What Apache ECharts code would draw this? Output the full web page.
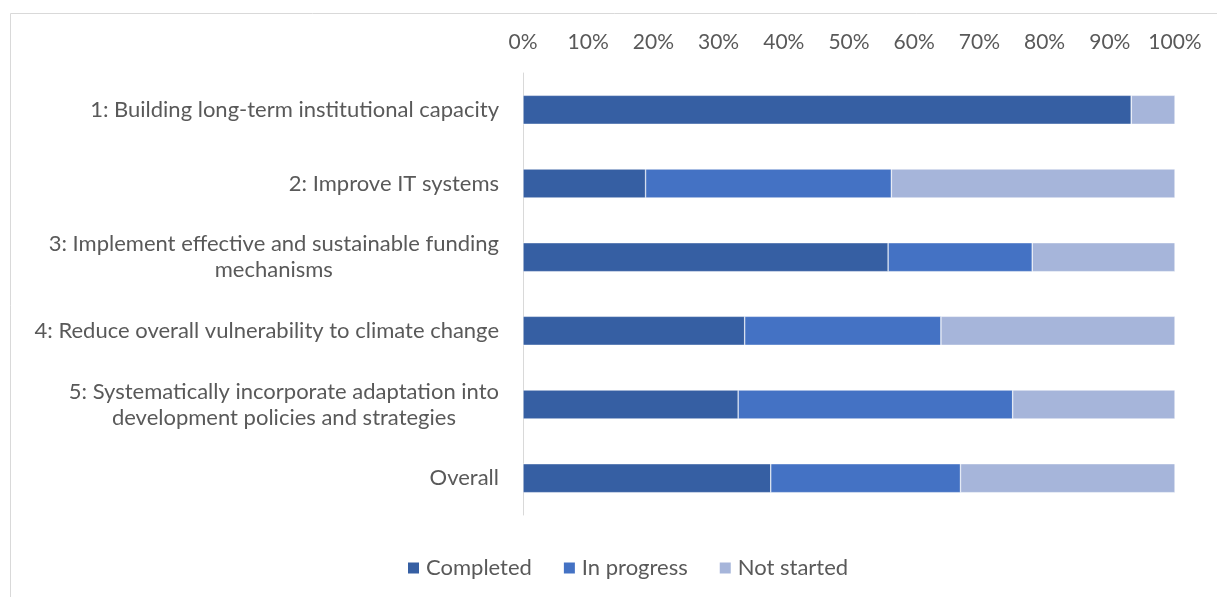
<!DOCTYPE html>
<html><head><meta charset="utf-8">
<script src="https://cdn.jsdelivr.net/npm/echarts@6/dist/echarts.min.js"></script>
<style>html,body{margin:0;padding:0;background:#fff}#c{width:1217px;height:597px}</style>
</head><body><div id="c"></div>
<script>
const categories = [
  "1: Building long-term institutional capacity",
  "2: Improve IT systems",
  "3: Implement effective and sustainable funding\nmechanisms",
  "4: Reduce overall vulnerability to climate change",
  "5: Systematically incorporate adaptation into\ndevelopment policies and strategies",
  "Overall"
];
const completed  = [93.3, 18.8, 56.0, 34.0, 33.0, 38.0];
const inProgress = [0,    37.7, 22.1, 30.1, 42.1, 29.1];
const notStarted = [6.7,  43.5, 21.9, 35.9, 24.9, 32.9];
const seriesNames = ["Completed", "In progress", "Not started"];
const colors = ["#365FA3", "#4472C4", "#A6B5DA"];

const FONT = "Lato";
const chart = echarts.init(document.getElementById('c'));
const mk = (name, data, color) => ({
  name, type: 'bar', stack: 'all', data, barWidth: 29,
  itemStyle: { color, borderColor: '#ffffff', borderWidth: 0.5 },
  emphasis: { disabled: true }
});
chart.setOption({
  animation: false,
  textStyle: { fontFamily: FONT },
  graphic: [{ type: 'rect', left: 8, top: 11, shape: { width: 1260, height: 640 },
    style: { fill: 'none', stroke: '#d9d9d9', lineWidth: 1 }, silent: true }],
  grid: { left: 523, right: 42, top: 73, bottom: 82, containLabel: false },
  legend: {
    bottom: 13, left: 401, itemWidth: 13, itemHeight: 13, itemGap: 30,
    icon: 'rect',
    textStyle: { color: '#595959', fontSize: 22, fontFamily: FONT, padding: [0, 0, 0, 1] },
    data: seriesNames
  },
  xAxis: {
    type: 'value', position: 'top', min: 0, max: 100, interval: 10,
    axisLabel: { formatter: '{value}%', color: '#595959', fontSize: 21, margin: 20, fontFamily: FONT },
    axisLine: { show: false }, axisTick: { show: false }, splitLine: { show: false }
  },
  yAxis: {
    type: 'category', inverse: true, data: categories,
    axisLine: { show: true, lineStyle: { color: '#d9d9d9' } },
    axisTick: { show: false },
    axisLabel: {
      color: '#595959', fontSize: 22, margin: 24, fontFamily: FONT, align: 'right', lineHeight: 26,
      formatter: v => v.split('\n').map(l => '{c|' + l + '}').join('\n'),
      rich: { c: { align: 'center', color: '#595959', fontSize: 22, fontFamily: FONT, lineHeight: 26 } }
    }
  },
  series: [
    mk(seriesNames[0], completed, colors[0]),
    mk(seriesNames[1], inProgress, colors[1]),
    mk(seriesNames[2], notStarted, colors[2])
  ]
});
</script></body></html>
